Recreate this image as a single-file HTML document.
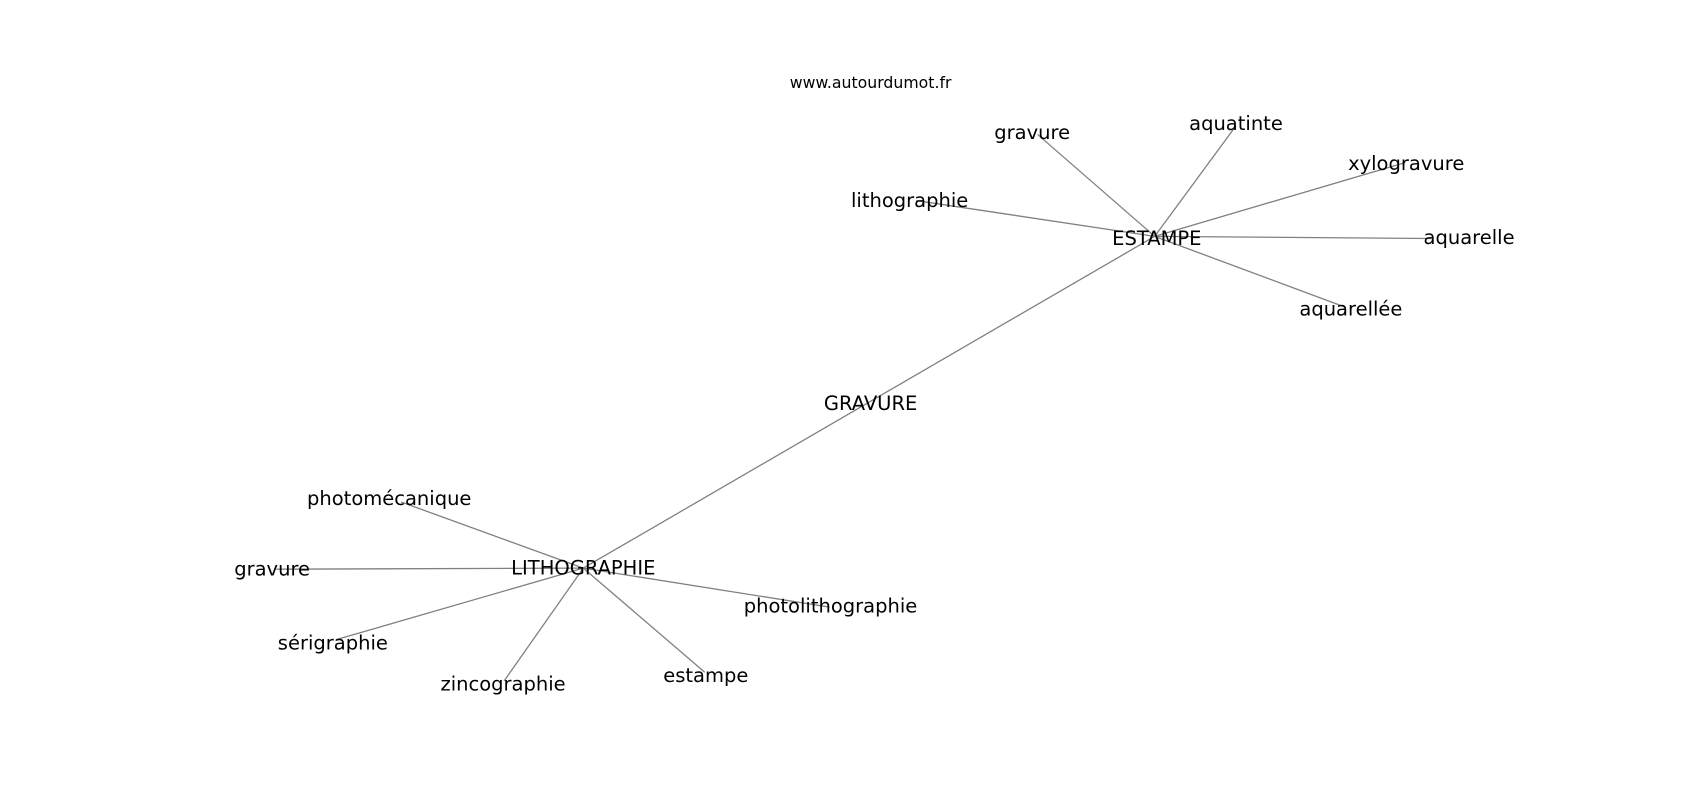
<!DOCTYPE html>
<html><head><meta charset="utf-8"><style>html,body{margin:0;padding:0;background:#fff;}svg{display:block}</style></head>
<body>
<svg width="1700" height="800" viewBox="0 0 1700 800" xmlns="http://www.w3.org/2000/svg">
<g transform="scale(1.0842)">
<g stroke="#808080" stroke-width="1.2" fill="none">
<line x1="1065" y1="218" x2="957" y2="124"/>
<line x1="1065" y1="218" x2="1140" y2="116"/>
<line x1="1065" y1="218" x2="1296" y2="150"/>
<line x1="1065" y1="218" x2="1320" y2="220"/>
<line x1="1065" y1="218" x2="1240" y2="283"/>
<line x1="1065" y1="218" x2="845" y2="185"/>
<line x1="1065" y1="218" x2="538" y2="524"/>
<line x1="538" y1="524" x2="370" y2="463"/>
<line x1="538" y1="524" x2="255" y2="525"/>
<line x1="538" y1="524" x2="310" y2="590"/>
<line x1="538" y1="524" x2="465" y2="628"/>
<line x1="538" y1="524" x2="650" y2="620"/>
<line x1="538" y1="524" x2="765" y2="560"/>
</g>
<g font-family="DejaVu Sans, Liberation Sans, sans-serif" font-size="18" fill="#000" text-anchor="middle" dominant-baseline="central">
<text x="803" y="76" font-size="14.5">www.autourdumot.fr</text>
<text x="1067" y="220">ESTAMPE</text>
<text x="803" y="372">GRAVURE</text>
<text x="538" y="524">LITHOGRAPHIE</text>
<text x="952" y="122">gravure</text>
<text x="1140" y="114">aquatinte</text>
<text x="1297" y="151">xylogravure</text>
<text x="1355" y="219">aquarelle</text>
<text x="1246" y="285">aquarellée</text>
<text x="839" y="185">lithographie</text>
<text x="359" y="460">photomécanique</text>
<text x="251" y="525">gravure</text>
<text x="307" y="593">sérigraphie</text>
<text x="464" y="631">zincographie</text>
<text x="651" y="623">estampe</text>
<text x="766" y="559">photolithographie</text>
</g>
</g>
</svg>
</body></html>
